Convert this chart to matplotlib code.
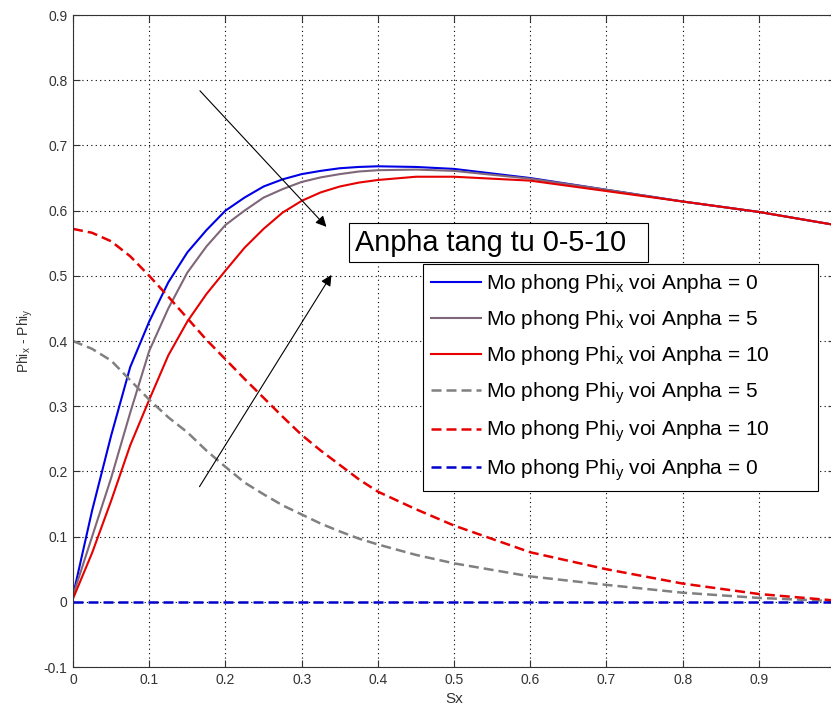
import matplotlib
matplotlib.use('Agg')
import matplotlib.pyplot as plt

plt.rcParams['font.family'] = ['Liberation Sans', 'DejaVu Sans']
plt.rcParams['mathtext.fontset'] = 'custom'
plt.rcParams['mathtext.rm'] = 'Liberation Sans'
plt.rcParams['mathtext.it'] = 'Liberation Sans:italic'

# Sx sample points
sx = [0, 0.025, 0.05, 0.075, 0.1, 0.125, 0.15, 0.175, 0.2, 0.225, 0.25, 0.275,
      0.3, 0.325, 0.35, 0.375, 0.4, 0.45, 0.5, 0.6, 0.7, 0.8, 0.9, 1.0]

# Phi_x for Anpha = 0, 5, 10
phix_0 = [0.01, 0.14, 0.255, 0.36, 0.43, 0.49, 0.536, 0.57, 0.60, 0.62, 0.637, 0.648,
          0.656, 0.661, 0.665, 0.667, 0.668, 0.667, 0.664, 0.65, 0.632, 0.614, 0.598, 0.578]
phix_5 = [0.01, 0.10, 0.19, 0.29, 0.385, 0.45, 0.505, 0.545, 0.578, 0.60, 0.62, 0.633,
          0.644, 0.651, 0.656, 0.66, 0.662, 0.663, 0.661, 0.649, 0.632, 0.614, 0.598, 0.578]
phix_10 = [0.005, 0.075, 0.155, 0.24, 0.31, 0.378, 0.43, 0.472, 0.508, 0.543, 0.572, 0.597,
           0.615, 0.628, 0.637, 0.643, 0.647, 0.652, 0.652, 0.646, 0.63, 0.614, 0.598, 0.578]

# Phi_y for Anpha = 5, 10, 0
phiy_5 = [0.40, 0.388, 0.37, 0.34, 0.31, 0.283, 0.26, 0.232, 0.207, 0.183, 0.165, 0.148,
          0.134, 0.12, 0.108, 0.097, 0.088, 0.072, 0.059, 0.039, 0.026, 0.014, 0.006, 0.001]
phiy_10 = [0.572, 0.566, 0.553, 0.53, 0.50, 0.468, 0.435, 0.402, 0.372, 0.342, 0.313, 0.284,
           0.256, 0.232, 0.21, 0.188, 0.169, 0.142, 0.117, 0.076, 0.05, 0.028, 0.012, 0.002]
phiy_0 = [0.0] * len(sx)

labels = ['Mo phong Phi$_{\\mathrm{x}}$ voi Anpha = 0',
          'Mo phong Phi$_{\\mathrm{x}}$ voi Anpha = 5',
          'Mo phong Phi$_{\\mathrm{x}}$ voi Anpha = 10',
          'Mo phong Phi$_{\\mathrm{y}}$ voi Anpha = 5',
          'Mo phong Phi$_{\\mathrm{y}}$ voi Anpha = 10',
          'Mo phong Phi$_{\\mathrm{y}}$ voi Anpha = 0']

fig = plt.figure(figsize=(8.31, 7.06), dpi=100)
ax = fig.add_axes([0.0879, 0.0552, 0.917, 0.9235])

dash = (0, (4, 2))
ax.plot(sx, phix_0, color='#0000e6', lw=1.5, label=labels[0])
ax.plot(sx, phix_5, color='#7f6678', lw=1.5, label=labels[1])
ax.plot(sx, phix_10, color='#e60000', lw=1.5, label=labels[2])
ax.plot(sx, phiy_5, color='#808080', lw=1.8, ls=dash, label=labels[3])
ax.plot(sx, phiy_10, color='#e60000', lw=1.8, ls=dash, label=labels[4])
ax.plot(sx, phiy_0, color='#0000cc', lw=1.8, ls=dash, label=labels[5])

ax.set_xlim(0, 1)
ax.set_ylim(-0.1, 0.9)
ax.set_xticks([0, 0.1, 0.2, 0.3, 0.4, 0.5, 0.6, 0.7, 0.8, 0.9])
ax.set_xticklabels(['0', '0.1', '0.2', '0.3', '0.4', '0.5', '0.6', '0.7', '0.8', '0.9'])
ax.set_yticks([-0.1, 0, 0.1, 0.2, 0.3, 0.4, 0.5, 0.6, 0.7, 0.8, 0.9])
ax.set_yticklabels(['-0.1', '0', '0.1', '0.2', '0.3', '0.4', '0.5', '0.6', '0.7', '0.8', '0.9'])
ax.tick_params(direction='in', length=5, top=True, right=True, labelsize=10,
               colors='#333333', pad=4)
for s in ax.spines.values():
    s.set_color('#333333')
ax.grid(True, color='k', ls=(0, (1, 3)), lw=0.8)

ax.set_xlabel('Sx', fontsize=11, color='#333333', labelpad=4)
ax.set_ylabel('Phi$_{\\mathrm{x}}$ - Phi$_{\\mathrm{y}}$', fontsize=10, color='#333333', labelpad=6)

# arrows and note
ax.annotate('', xy=(0.335, 0.572), xytext=(0.164, 0.787),
            arrowprops=dict(arrowstyle='-|>', color='k', lw=0.8, mutation_scale=16))
ax.annotate('', xy=(0.341, 0.505), xytext=(0.164, 0.173),
            arrowprops=dict(arrowstyle='-|>', color='k', lw=0.8, mutation_scale=16))
ax.text(0.37, 0.551, 'Anpha tang tu 0-5-10  ', fontsize=20.8, va='center', ha='left',
        bbox=dict(boxstyle='square,pad=0.2', fc='white', ec='k', lw=0.8))

leg = ax.legend(loc='upper left', bbox_to_anchor=(0.459, 0.618, 0.518, 0.0),
                mode='expand', borderaxespad=0,
                fontsize=15, handlelength=2.4, handletextpad=0.25, labelspacing=0.62,
                fancybox=False, framealpha=1, edgecolor='k', borderpad=0.4)
leg.get_frame().set_linewidth(0.8)

fig.savefig('out.png', dpi=100)
